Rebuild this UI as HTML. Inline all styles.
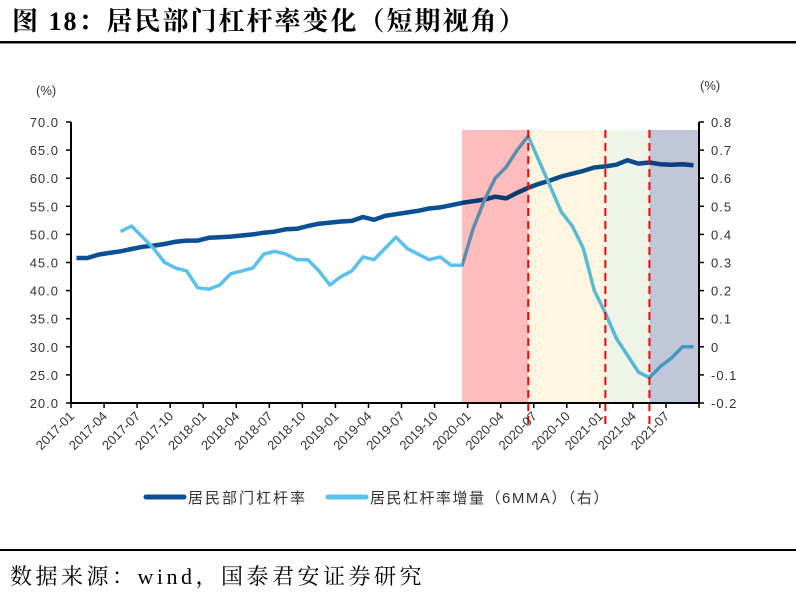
<!DOCTYPE html>
<html><head><meta charset="utf-8"><style>
body{margin:0;background:#fff;width:796px;height:609px;overflow:hidden;font-family:"Liberation Serif","Noto Serif CJK SC",serif}
.ov{mix-blend-mode:multiply}
</style></head><body>
<svg width="796" height="609" xmlns="http://www.w3.org/2000/svg">
<text x="12" y="30" font-size="26" font-weight="bold" letter-spacing="2" font-family="Liberation Serif,Noto Serif CJK SC,serif">图 18：居民部门杠杆率变化（短期视角）</text>
<rect x="0" y="41" width="796" height="2.5" fill="#000"/>
<g id="plot"></g>
<rect x="0" y="549" width="796" height="2" fill="#000"/>
<text x="10" y="584" font-size="22" letter-spacing="3.5" font-family="Liberation Serif,Noto Serif CJK SC,serif">数据来源：wind，国泰君安证券研究</text>
</svg>
<script>
const months=[];for(let y=2017;y<=2021;y++)for(let m=1;m<=12;m++){if(y===2021&&m>9)break;months.push(y+'-'+String(m).padStart(2,'0'));}
const leverage=[45.8,45.8,46.4,46.7,47.0,47.4,47.8,48.0,48.3,48.7,48.9,48.9,49.4,49.5,49.6,49.8,50.0,50.3,50.5,50.9,51.0,51.5,51.9,52.1,52.3,52.4,53.1,52.6,53.3,53.6,53.9,54.2,54.6,54.8,55.2,55.6,55.9,56.2,56.7,56.4,57.4,58.3,59.0,59.6,60.3,60.8,61.3,61.9,62.1,62.4,63.2,62.6,62.8,62.5,62.4,62.5,62.3];
const increment=[null,null,null,null,0.41,0.43,0.39,0.35,0.30,0.28,0.27,0.21,0.205,0.22,0.26,0.27,0.28,0.33,0.34,0.33,0.31,0.31,0.27,0.22,0.25,0.27,0.32,0.31,0.35,0.39,0.35,0.33,0.31,0.32,0.29,0.29,0.42,0.52,0.60,0.64,0.70,0.75,0.66,0.57,0.48,0.43,0.35,0.20,0.12,0.03,-0.03,-0.09,-0.11,-0.07,-0.04,0.00,0.00];
const leftTicks=[20,25,30,35,40,45,50,55,60,65,70];
const rightTicks=[-0.2,-0.1,0,0.1,0.2,0.3,0.4,0.5,0.6,0.7,0.8];
const periodStarts=['2019-12','2020-06','2021-01','2021-05'];
const periodEnds=['2020-06','2021-01','2021-05','2021-10'];
const periodColors=['#ffbcbc','#fff6e2','#eff4e9','#bfc6d8'];
const xLabels=months.filter((m,i)=>i%3===0);

const NS='http://www.w3.org/2000/svg';
const g=document.getElementById('plot');
const X0=71,X1=699,Y0=403,Y1=122;
const step=(X1-X0)/57;
const xIdx=i=>X0+step*(i+0.5);
const xOf=m=>{const [y,mo]=m.split('-').map(Number);return xIdx((y-2017)*12+mo-1);};
const yL=v=>Y0-(v-20)/50*(Y0-Y1);
const yR=v=>Y0-(v+0.2)/1.0*(Y0-Y1);
function el(t,a,p){const e=document.createElementNS(NS,t);for(const k in a)e.setAttribute(k,a[k]);(p||g).appendChild(e);return e;}
function tx(x,y,s,a,p){const e=el('text',Object.assign({x:x,y:y,'font-size':13,fill:'#333','font-family':'Liberation Sans,Noto Sans CJK SC,sans-serif'},a||{}),p);e.textContent=s;return e;}

let d='';leverage.forEach((v,i)=>{d+=(i?'L':'M')+xIdx(i).toFixed(1)+','+yL(v).toFixed(1);});
const l1=el('path',{d:d,fill:'none',stroke:'#0b4f96','stroke-width':4.5,'stroke-linejoin':'round'});


d='';let st=true;increment.forEach((v,i)=>{if(v===null)return;d+=(st?'M':'L')+xIdx(i).toFixed(1)+','+yR(v).toFixed(1);st=false;});
const l2=el('path',{d:d,fill:'none',stroke:'#5ac1ec','stroke-width':3.5,'stroke-linejoin':'round'});



periodStarts.forEach((s,i)=>{
 const x=xOf(s),x2=Math.min(xOf(periodEnds[i]),X1);
 const r=el('rect',{x:x,y:130,width:x2-x,height:Y0-130,fill:periodColors[i],class:'ov'});
 
 
});
periodStarts.forEach((s,i)=>{
 if(i===0)return;const x=xOf(s);
 const ln=el('line',{x1:x,x2:x,y1:130,y2:425,stroke:'#f00','stroke-width':2,'stroke-dasharray':'8,5'});
 
 
});

const ax=el('path',{d:`M${X0},${Y1}V${Y0}H${X1}V${Y1}`,fill:'none',stroke:'#000','stroke-width':2});


leftTicks.forEach(v=>{el('line',{x1:X0-5,x2:X0,y1:yL(v),y2:yL(v),stroke:'#000','stroke-width':1.5});
 const t=tx(X0-12,yL(v)+5,v.toFixed(1),{'text-anchor':'end','letter-spacing':1});
 
 });
rightTicks.forEach(v=>{el('line',{x1:X1,x2:X1+5,y1:yR(v),y2:yR(v),stroke:'#000','stroke-width':1.5});
 const t=tx(X1+12,yR(v)+5,(Math.round(v*10)/10).toString(),{'letter-spacing':1});
 
 });
xLabels.forEach((m,k)=>{const x=X0+step*3*k;
 el('line',{x1:x,x2:x,y1:Y0,y2:Y0+5,stroke:'#000','stroke-width':1.5});
 const t=tx(x+4,Y0+14,m,{'text-anchor':'end',transform:`rotate(-45 ${x+4} ${Y0+14})`});
 
 });
el('line',{x1:X1,x2:X1,y1:Y0,y2:Y0+5,stroke:'#000','stroke-width':1.5});
const ul=tx(36,95,'(%)',{});
const ur=tx(700,90,'(%)',{});

const lg=el('g',{});


el('line',{x1:146,x2:184,y1:497,y2:497,stroke:'#0b4f96','stroke-width':5,'stroke-linecap':'round'},lg);
const lt1=tx(188,503,'居民部门杠杆率',{'font-size':15,'letter-spacing':2},lg);
el('line',{x1:328,x2:366,y1:497,y2:497,stroke:'#5ac1ec','stroke-width':5,'stroke-linecap':'round'},lg);
const lt2=tx(370,503,'居民杠杆率增量（6MMA）（右）',{'font-size':15,'letter-spacing':1.5},lg);
</script>
</body></html>
